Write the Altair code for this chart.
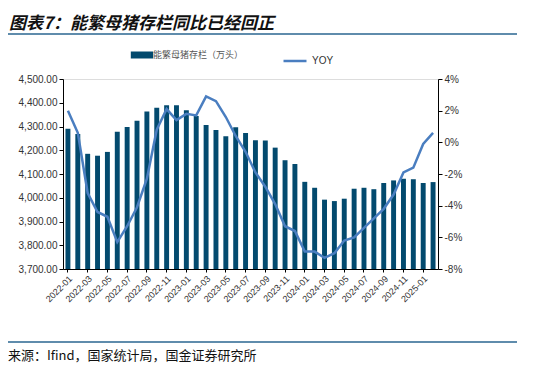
import altair as alt
import pandas as pd

months = [
    "2022-01", "2022-02", "2022-03", "2022-04", "2022-05", "2022-06",
    "2022-07", "2022-08", "2022-09", "2022-10", "2022-11", "2022-12",
    "2023-01", "2023-02", "2023-03", "2023-04", "2023-05", "2023-06",
    "2023-07", "2023-08", "2023-09", "2023-10", "2023-11", "2023-12",
    "2024-01", "2024-02", "2024-03", "2024-04", "2024-05", "2024-06",
    "2024-07", "2024-08", "2024-09", "2024-10", "2024-11", "2024-12",
    "2025-01", "2025-02",
]
stock = [
    4291, 4268, 4185, 4177, 4193, 4278, 4298, 4324, 4363, 4379, 4390, 4390,
    4368, 4344, 4306, 4285, 4259, 4297, 4273, 4242, 4241, 4211, 4158, 4142,
    4067, 4042, 3992, 3986, 3996, 4038, 4042, 4036, 4062, 4073, 4080, 4078,
    4062, 4066,
]
yoy = [
    2.0, 0.6, -3.2, -4.4, -4.7, -6.3, -5.3, -4.1, -2.3, 0.8, 2.1, 1.4,
    1.8, 1.7, 2.9, 2.6, 1.6, 0.4, -0.6, -1.9, -2.8, -3.9, -5.3, -5.6,
    -6.9, -6.9, -7.3, -7.0, -6.2, -6.0, -5.4, -4.8, -4.2, -3.3, -1.9, -1.6,
    -0.1, 0.6,
]
tick_labels = months[::2][:19]
left_ticks = [3700, 3800, 3900, 4000, 4100, 4200, 4300, 4400, 4500]
right_ticks = [-8, -6, -4, -2, 0, 2, 4]

bar_name = "能繁母猪存栏（万头）"
line_name = "YOY"
title_text = "图表7：能繁母猪存栏同比已经回正"
source_text = "来源：Ifind，国家统计局，国金证券研究所"

BAR_COLOR = "#034a6e"
LINE_COLOR = "#4a7ec0"
RULE_COLOR = "#2a6690"
FONT = "Liberation Sans"
CJK = "Noto Sans CJK SC"

df = pd.DataFrame({"month": months, "stock": stock, "yoy": yoy,
                   "s1": bar_name, "s2": line_name})

x_enc = alt.X("month:O", sort=None, title=None,
              scale=alt.Scale(paddingInner=0.5, paddingOuter=0.25),
              axis=alt.Axis(values=tick_labels, labelAngle=-45, labelAlign="right",
                            labelBaseline="top", labelFontSize=9, labelColor="#333333",
                            labelFont=FONT, domainColor="#000000", tickColor="#000000",
                            tickSize=3, labelPadding=2, domainWidth=1))

bars = alt.Chart(df).mark_bar(color=BAR_COLOR).encode(
    x=x_enc,
    y=alt.Y("stock:Q", title=None,
            scale=alt.Scale(domain=[3700, 4500], zero=False, nice=False),
            axis=alt.Axis(values=left_ticks, format=",.2f", labelFontSize=10,
                          labelColor="#333333", labelFont=FONT, grid=False,
                          domainColor="#000000", tickColor="#000000", tickSize=4)),
    y2=alt.datum(3700),
    fill=alt.Fill("s1:N", title=None,
                  scale=alt.Scale(domain=[bar_name], range=[BAR_COLOR]),
                  legend=alt.Legend(orient="none", legendX=72, legendY=-31,
                                    symbolType="M-1.6,-0.5H1.6V0.5H-1.6Z",
                                    symbolSize=196, symbolStrokeWidth=0,
                                    labelFontSize=9, labelColor="#555555",
                                    labelFont=CJK, labelLimit=300)),
)

line = alt.Chart(df).mark_line(strokeWidth=2.5).encode(
    x=alt.X("month:O", sort=None),
    y=alt.Y("yoy:Q", title=None,
            scale=alt.Scale(domain=[-8, 4], nice=False, zero=False),
            axis=alt.Axis(orient="right", values=right_ticks,
                          labelExpr="datum.value + '%'", labelFontSize=10,
                          labelColor="#333333", labelFont=FONT, grid=False,
                          domainColor="#000000", tickColor="#000000", tickSize=4)),
    stroke=alt.Stroke("s2:N", title=None,
                      scale=alt.Scale(domain=[line_name], range=[LINE_COLOR]),
                      legend=alt.Legend(orient="none", legendX=219, legendY=-31,
                                        symbolType="stroke", symbolSize=529,
                                        symbolStrokeWidth=2.5,
                                        labelFontSize=10, labelColor="#333333",
                                        labelFont=FONT)),
)

one = pd.DataFrame({"k": [0]})
top_rule = alt.Chart(one).mark_rule(color=RULE_COLOR, strokeWidth=1.5).encode(
    x=alt.value(-58), x2=alt.value(454), y=alt.value(-45))
bottom_rule = alt.Chart(one).mark_rule(color=RULE_COLOR, strokeWidth=1.5).encode(
    x=alt.value(-58), x2=alt.value(454), y=alt.value(263))
title = alt.Chart(one).mark_text(align="left", baseline="alphabetic", font=CJK,
                                 fontSize=17, fontStyle="italic", fontWeight="bold",
                                 color="#111111").encode(
    x=alt.value(-54), y=alt.value(-50), text=alt.value(title_text))
source = alt.Chart(one).mark_text(align="left", baseline="alphabetic", font=CJK,
                                  fontSize=13, color="#111111").encode(
    x=alt.value(-55), y=alt.value(281), text=alt.value(source_text))

chart = alt.layer(bars, line, top_rule, bottom_rule, title, source).resolve_scale(
    y="independent", fill="independent", stroke="independent"
).properties(
    width=375, height=190,
    autosize=alt.AutoSizeParams(type="none"),
    padding={"left": 55, "top": 71, "right": 92, "bottom": 99},
).configure_view(stroke=None).configure(background="white")

chart.save("out.html", embed_options={"renderer": "svg", "actions": False})
